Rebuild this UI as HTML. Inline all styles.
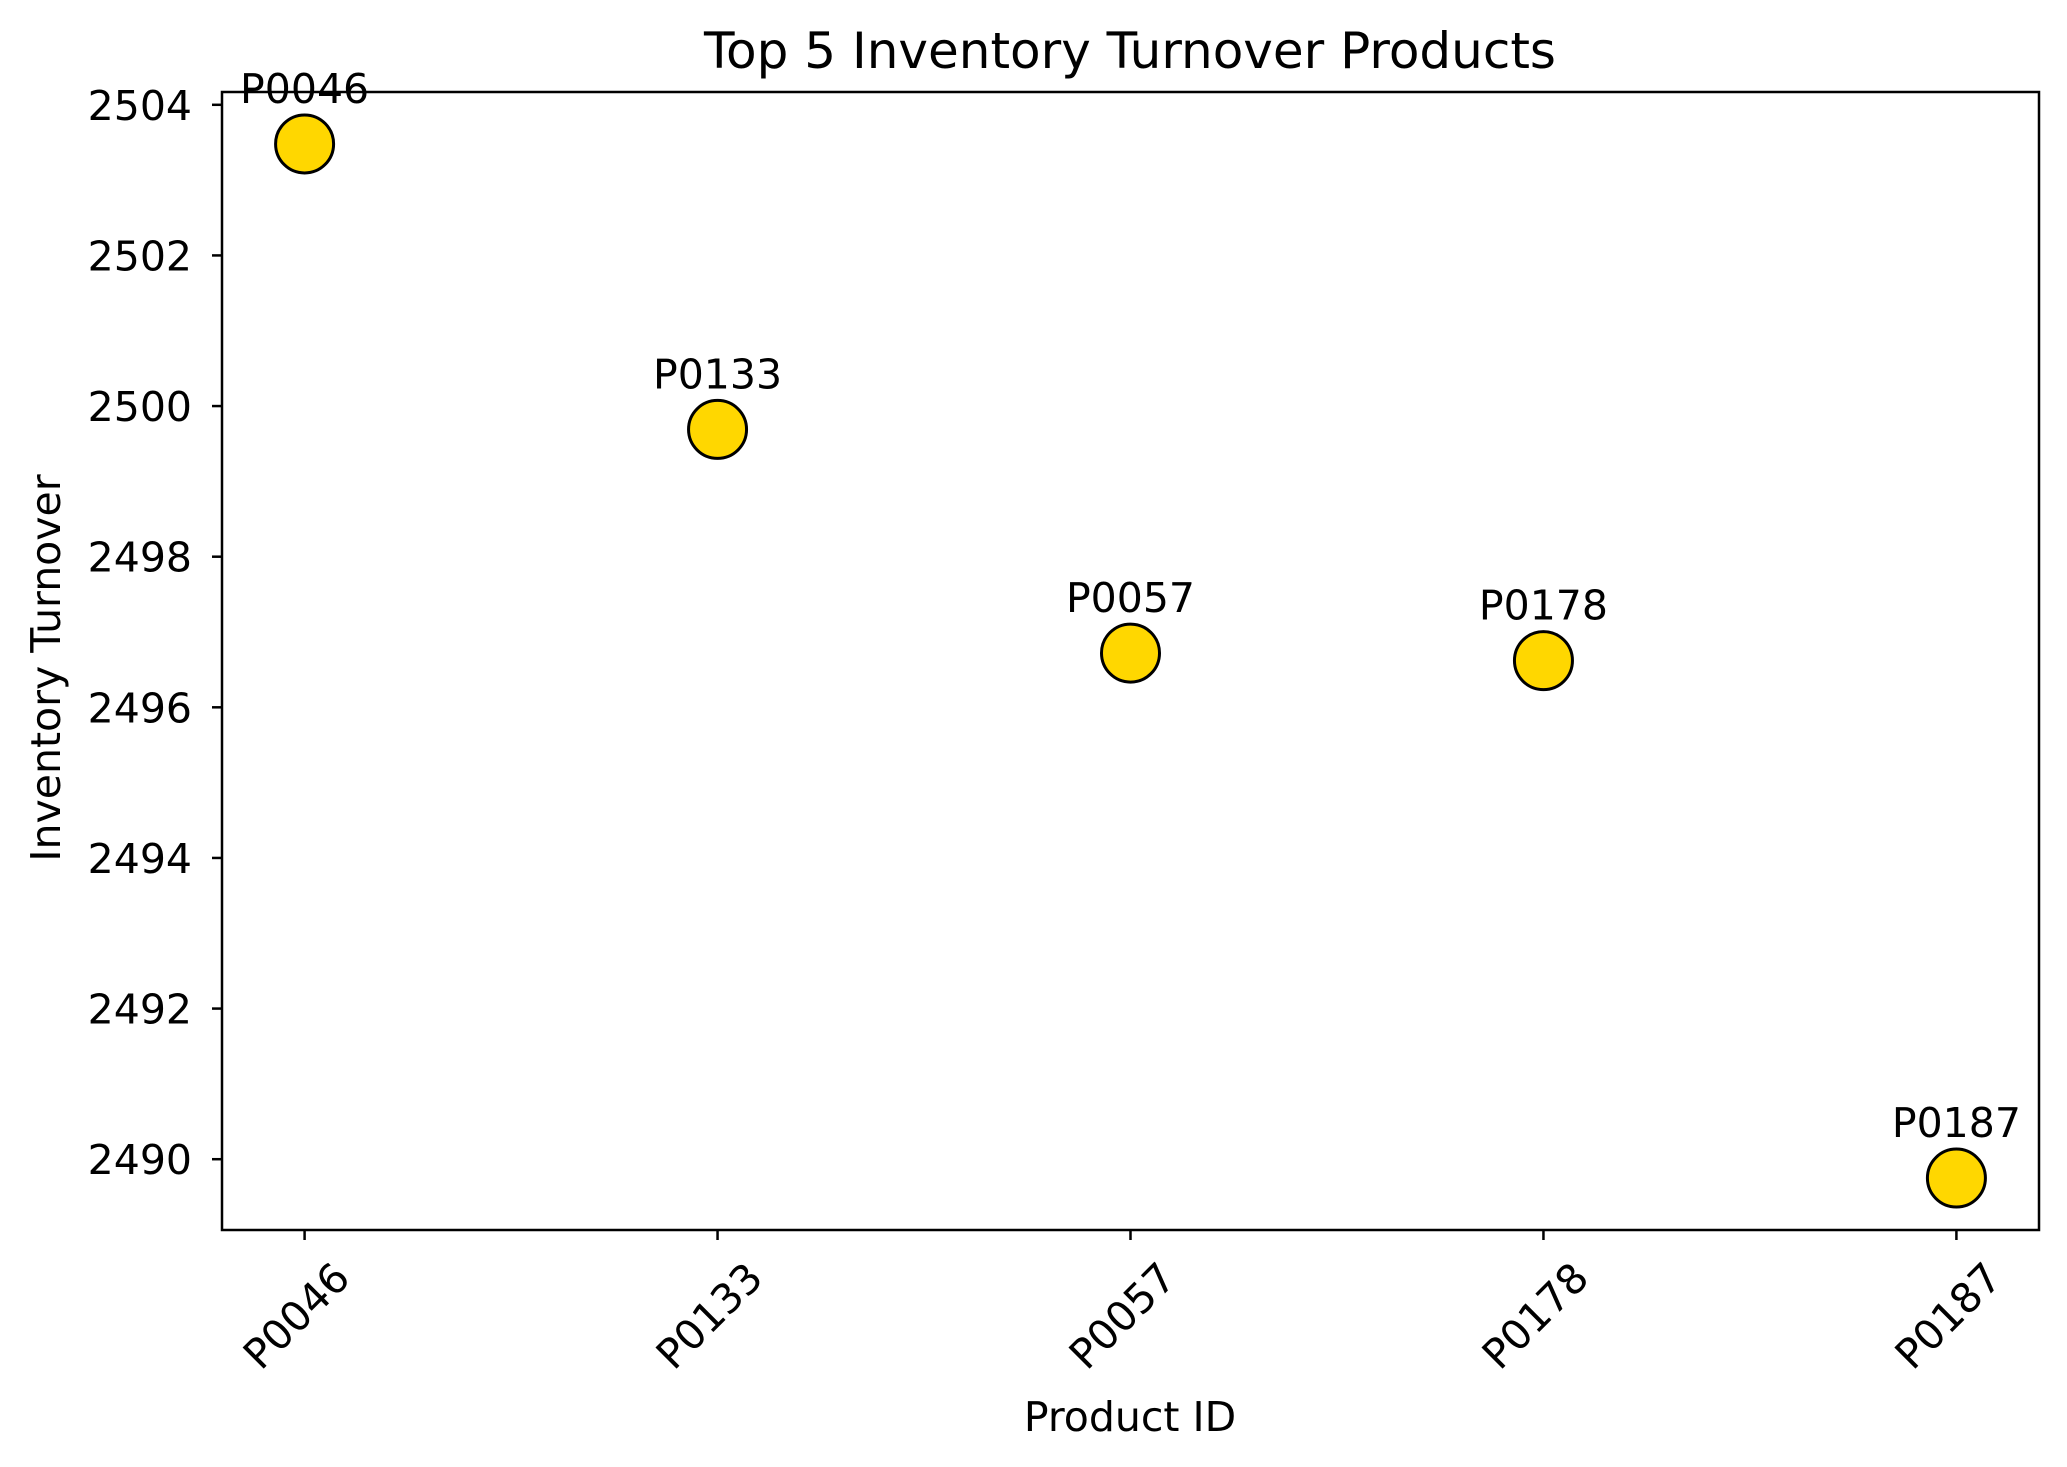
<!DOCTYPE html>
<html><head><meta charset="utf-8"><style>
html,body{margin:0;padding:0;background:#fff}
svg{display:block;font-family:"DejaVu Sans","Liberation Sans",sans-serif}
</style></head><body>
<svg id="chart" width="2067" height="1467" viewBox="0 0 2067 1467">
<rect width="2067" height="1467" fill="#fff"/>
<text x="1130" y="68" font-size="50" text-anchor="middle">Top 5 Inventory Turnover Products</text>
<text x="1130" y="1431" font-size="41" text-anchor="middle">Product ID</text>
<text x="60" y="668" font-size="41" text-anchor="middle" transform="rotate(-90 60 668)">Inventory Turnover</text>
<g id="ticks"></g>
<g id="marks"></g>
<rect x="222" y="92" width="1817" height="1138" fill="none" stroke="#000" stroke-width="2.5"/>
</svg>
<script>
const categories = ["P0046","P0133","P0057","P0178","P0187"];
const values = [2503.48, 2499.69, 2496.72, 2496.62, 2489.75];
const yTicks = [2490, 2492, 2494, 2496, 2498, 2500, 2502, 2504];

const X0=222, X1=2039, Y0=92, Y1=1230;
const xMin=-0.2, xMax=4.2, yMin=2489.06, yMax=2504.17;
function xs(i){return X0+(i-xMin)/(xMax-xMin)*(X1-X0);}
function ys(v){return Y1-(v-yMin)/(yMax-yMin)*(Y1-Y0);}
const NS="http://www.w3.org/2000/svg";
const tg=document.getElementById('ticks'), mg=document.getElementById('marks');
function mk(tag,attrs,parent){const e=document.createElementNS(NS,tag);for(const k in attrs)e.setAttribute(k,attrs[k]);parent.appendChild(e);return e;}

yTicks.forEach(t=>{
  const y=ys(t);
  const l=mk('line',{x1:X0-10,x2:X0,y1:y,y2:y,stroke:'#000','stroke-width':2.5},tg);
  
  
  const tx=mk('text',{x:X0-30,y:y+15,'font-size':41,'text-anchor':'end'},tg);
  tx.textContent=t;
  
  
});
categories.forEach((c,i)=>{
  const x=xs(i);
  const l=mk('line',{x1:x,x2:x,y1:Y1,y2:Y1+10,stroke:'#000','stroke-width':2.5},tg);
  
  
  const cx=x-8, cy=1316;
  const tx=mk('text',{x:cx,y:cy+14,'font-size':41,'text-anchor':'middle',transform:`rotate(-45 ${cx} ${cy})`},tg);
  tx.textContent=c;
  
  
});
values.forEach((v,i)=>{
  const x=xs(i), y=ys(v);
  const c=mk('circle',{cx:x,cy:y,r:29,fill:'#ffd700',stroke:'#000','stroke-width':3},mg);
  
  
  const t=mk('text',{x:x,y:y-41,'font-size':41,'text-anchor':'middle'},mg);
  t.textContent=categories[i];
  
  
});
</script>
</body></html>
